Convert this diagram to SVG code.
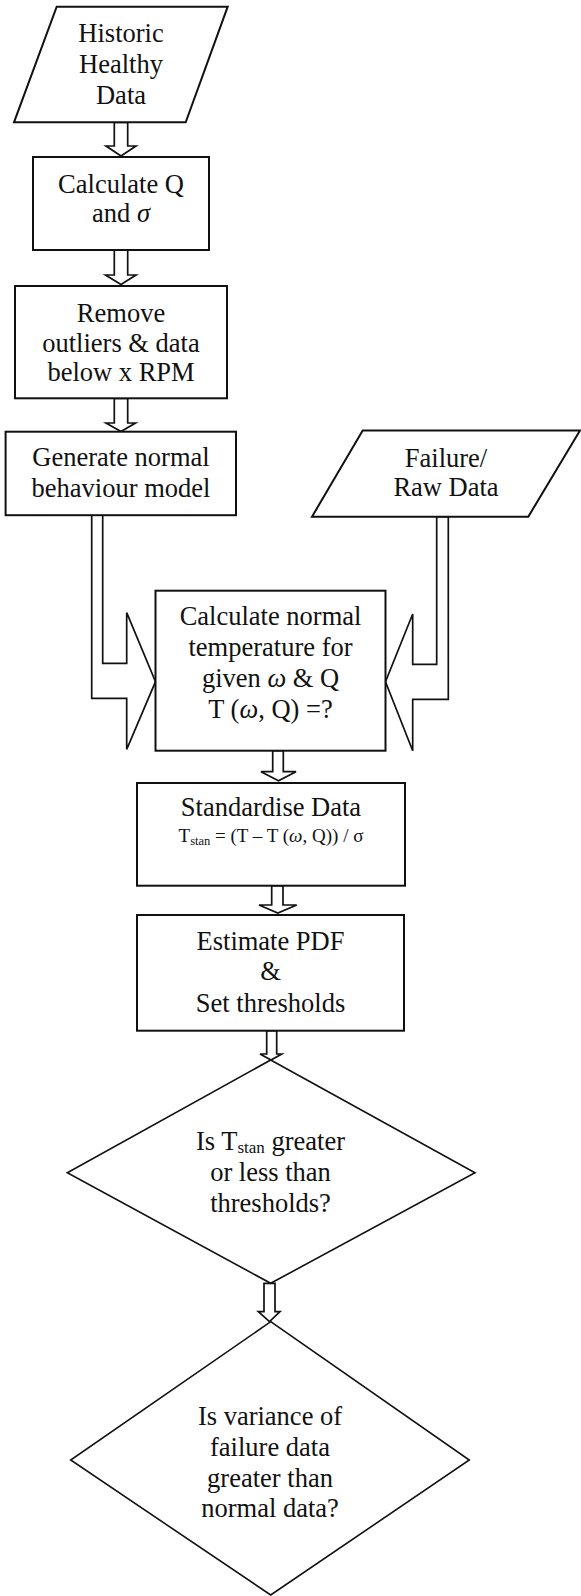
<svg xmlns="http://www.w3.org/2000/svg" width="581" height="1596" viewBox="0 0 581 1596">
  <style>
    .shape { fill: #ffffff; stroke: #111111; stroke-width: 2; stroke-linejoin: miter; }
    .dia { fill: #ffffff; stroke: #111111; stroke-width: 1.6; }
    .arrow { fill: #ffffff; stroke: #111111; stroke-width: 1.7; stroke-linejoin: miter; }
    text { font-family: "Liberation Serif", "Times New Roman", serif; font-size: 26.5px; fill: #111111; text-anchor: middle; }
    .small { font-size: 19px; }
    .it { font-style: italic; }
  </style>
  <rect x="0" y="0" width="581" height="1596" fill="#ffffff"/>

  <!-- block arrows between steps -->
  <g id="connectors">
    <path class="arrow" d="M114.3,122.3 H127.7 V146 H136 L121,156 L106,146 H114.3 Z"/>
    <path class="arrow" d="M114.3,250 H127.7 V275 H136 L121,284.5 L105.5,275 H114.3 Z"/>
    <path class="arrow" d="M114.3,398.3 H127.7 V423 H135.5 L121,431.5 L106,423 H114.3 Z"/>
    <path class="arrow" d="M91.7,515 H102.7 V663.3 H126.7 V612.7 L155.5,681.7 L126.7,749.3 V698.3 H91.7 Z"/>
    <path class="arrow" d="M436.7,516.7 H448.3 V699.3 H412.7 V750.7 L385.5,681.7 L412.7,614 V664.3 H436.7 Z"/>
    <path class="arrow" d="M272.7,750.7 H283.3 V771.7 H296 L278.5,780.7 L261,771.7 H272.7 Z"/>
    <path class="arrow" d="M271.7,885.7 H283 V905 H296.7 L277.8,913 L259,905 H271.7 Z"/>
    <path class="arrow" d="M266.7,1030.7 H276.7 V1054 H281.7 L271,1060 L260,1054 H266.7 Z"/>
    <path class="arrow" d="M264,1283.3 H275 V1311.7 H280 L269.5,1321.7 L258.3,1311.7 H264 Z"/>
  </g>

  <g id="historic-data">
    <polygon class="shape" points="56.7,6.7 227.7,6.7 185.7,122.3 14,122.3"/>
    <text x="121" y="42.3">Historic</text>
    <text x="121" y="73.3">Healthy</text>
    <text x="121" y="103.5">Data</text>
  </g>

  <g id="calc-q-sigma">
    <rect class="shape" x="33" y="157" width="176" height="93"/>
    <text x="121" y="192.7">Calculate Q</text>
    <text x="121" y="222.3">and <tspan class="it">σ</tspan></text>
  </g>

  <g id="remove-outliers">
    <rect class="shape" x="15" y="286" width="212" height="112.3"/>
    <text x="121" y="321.7">Remove</text>
    <text x="121" y="351.7">outliers &amp; data</text>
    <text x="121" y="381">below x RPM</text>
  </g>

  <g id="normal-model">
    <rect class="shape" x="5.6" y="431.7" width="230.4" height="83.5"/>
    <text x="121" y="465.7">Generate normal</text>
    <text x="121" y="496.7">behaviour model</text>
  </g>

  <g id="failure-data">
    <polygon class="shape" points="362.7,430.5 580,430.5 528.3,516.7 312,516.7"/>
    <text x="446" y="466.7">Failure/</text>
    <text x="446" y="496">Raw Data</text>
  </g>

  <g id="normal-temperature">
    <rect class="shape" x="155.5" y="590.7" width="230" height="160"/>
    <text x="270.5" y="625">Calculate normal</text>
    <text x="270.5" y="656">temperature for</text>
    <text x="270.5" y="687">given <tspan class="it">ω</tspan> &amp; Q</text>
    <text x="270.5" y="718">T (<tspan class="it">ω</tspan>, Q) =?</text>
  </g>

  <g id="standardise">
    <rect class="shape" x="137" y="783" width="268" height="102.7"/>
    <text x="271" y="815.7">Standardise Data</text>
    <text class="small" x="271" y="842.3">T<tspan font-size="12.5" dy="3">stan</tspan><tspan dy="-3"> = (T – T (</tspan><tspan class="it">ω</tspan>, Q)) / σ</text>
  </g>

  <g id="estimate-pdf">
    <rect class="shape" x="137" y="915" width="267" height="115.7"/>
    <text x="270.5" y="950">Estimate PDF</text>
    <text x="270.5" y="980">&amp;</text>
    <text x="270.5" y="1012.3">Set thresholds</text>
  </g>

  <g id="threshold-check">
    <polygon class="dia" points="270.7,1060 475,1172.7 270.7,1283.3 67.3,1172.7"/>
    <text x="270.5" y="1150">Is T<tspan font-size="17" dy="3">stan</tspan><tspan dy="-3"> greater</tspan></text>
    <text x="270.5" y="1181">or less than</text>
    <text x="270.5" y="1211.7">thresholds?</text>
  </g>

  <g id="variance-check">
    <polygon class="dia" points="270.7,1321.7 469.3,1460 270.7,1595 70.7,1460"/>
    <text x="270" y="1425">Is variance of</text>
    <text x="270" y="1456">failure data</text>
    <text x="270" y="1486.7">greater than</text>
    <text x="270" y="1517.3">normal data?</text>
  </g>
</svg>
